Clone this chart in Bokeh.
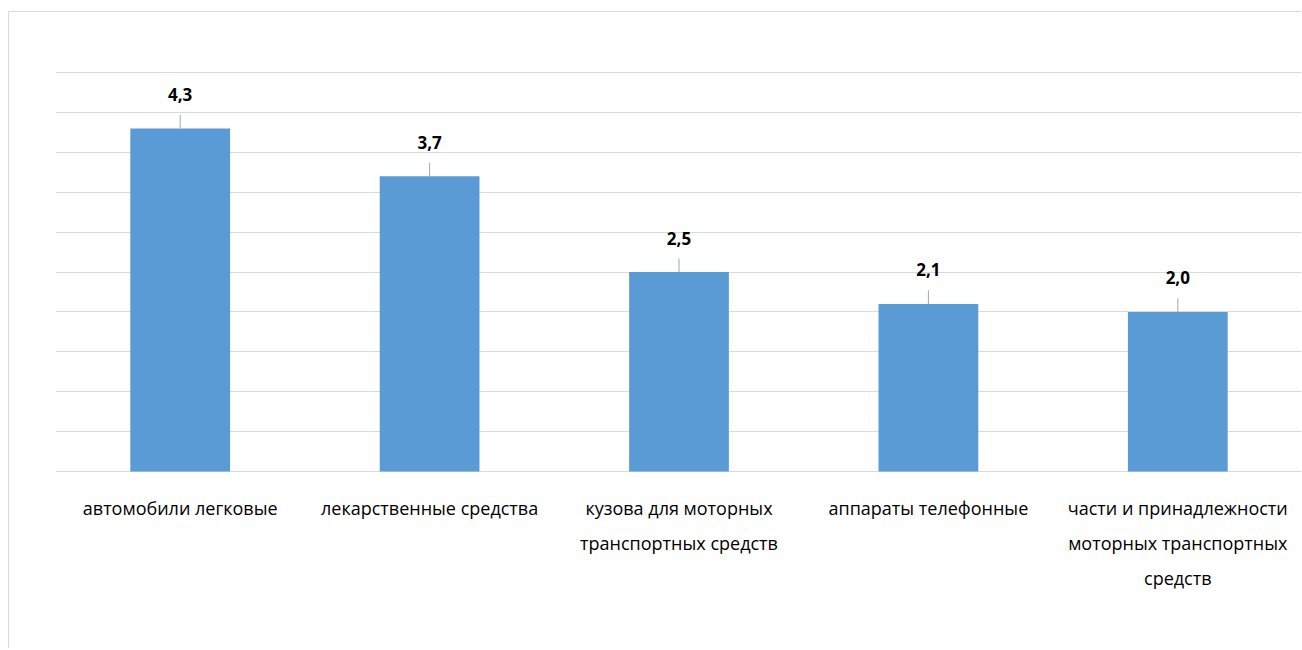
from bokeh.plotting import figure
from bokeh.models import ColumnDataSource, FactorRange, Range1d, FixedTicker, LabelSet
from bokeh.embed import file_html
from bokeh.resources import INLINE
from bokeh.core.properties import value

categories = [
    "автомобили легковые",
    "лекарственные средства",
    "кузова для моторных транспортных средств",
    "аппараты телефонные",
    "части и принадлежности моторных транспортных средств",
]
category_lines = [
    ["автомобили легковые"],
    ["лекарственные средства"],
    ["кузова для моторных", "транспортных средств"],
    ["аппараты телефонные"],
    ["части и принадлежности", "моторных транспортных", "средств"],
]
values = [4.3, 3.7, 2.5, 2.1, 2.0]
value_labels = ["4,3", "3,7", "2,5", "2,1", "2,0"]
y_ticks = [0, 0.5, 1.0, 1.5, 2.0, 2.5, 3.0, 3.5, 4.0, 4.5, 5.0]

leader_len = 0.17
src = ColumnDataSource(dict(
    cat=categories,
    val=values,
    lab=value_labels,
    top_line=[v + leader_len for v in values],
))

# category label lines (one row per text line)
lx, ltxt, loff = [], [], []
for c, lines in zip(categories, category_lines):
    for i, t in enumerate(lines):
        lx.append(c)
        ltxt.append(t)
        loff.append(-(36 + 35 * i))
cat_src = ColumnDataSource(dict(x=lx, y=[0] * len(lx), text=ltxt, yoff=loff))

p = figure(
    x_range=FactorRange(factors=categories, range_padding=0),
    y_range=Range1d(-2.23, 5.752),
    width=1293, height=637,
    output_backend="svg", toolbar_location=None,
    min_border_left=46, min_border_right=0, min_border_top=0, min_border_bottom=0,
)
p.styles = {"border-left": "1px solid #d9d9d9", "border-top": "1px solid #d9d9d9",
            "margin-left": "8px", "margin-top": "11px"}
p.outline_line_color = None

p.vbar(x="cat", top="val", width=0.4, source=src, fill_color="#5b9bd5", line_color=None)
p.segment(x0="cat", y0="val", x1="cat", y1="top_line", source=src, line_color="#a6a6a6", line_width=1)

labels = LabelSet(x="cat", y="val", text="lab", source=src, y_offset=34,
                  text_align="center", text_baseline="middle",
                  text_font=value("Open Sans"), text_font_size=value("17px"),
                  text_font_style=value("bold"), text_color=value("#000000"))
p.add_layout(labels)

cat_labels = LabelSet(x="x", y="y", text="text", source=cat_src, y_offset="yoff",
                      text_align="center", text_baseline="middle",
                      text_font=value("Open Sans"), text_font_size=value("18px"),
                      text_color=value("#000000"))
p.add_layout(cat_labels)

p.yaxis.visible = False
p.xaxis.visible = False
p.ygrid.ticker = FixedTicker(ticks=y_ticks)
p.ygrid.grid_line_color = "#d9d9d9"
p.ygrid.grid_line_width = 1
p.xgrid.grid_line_color = None

open("out.html", "w").write(file_html(p, INLINE))
